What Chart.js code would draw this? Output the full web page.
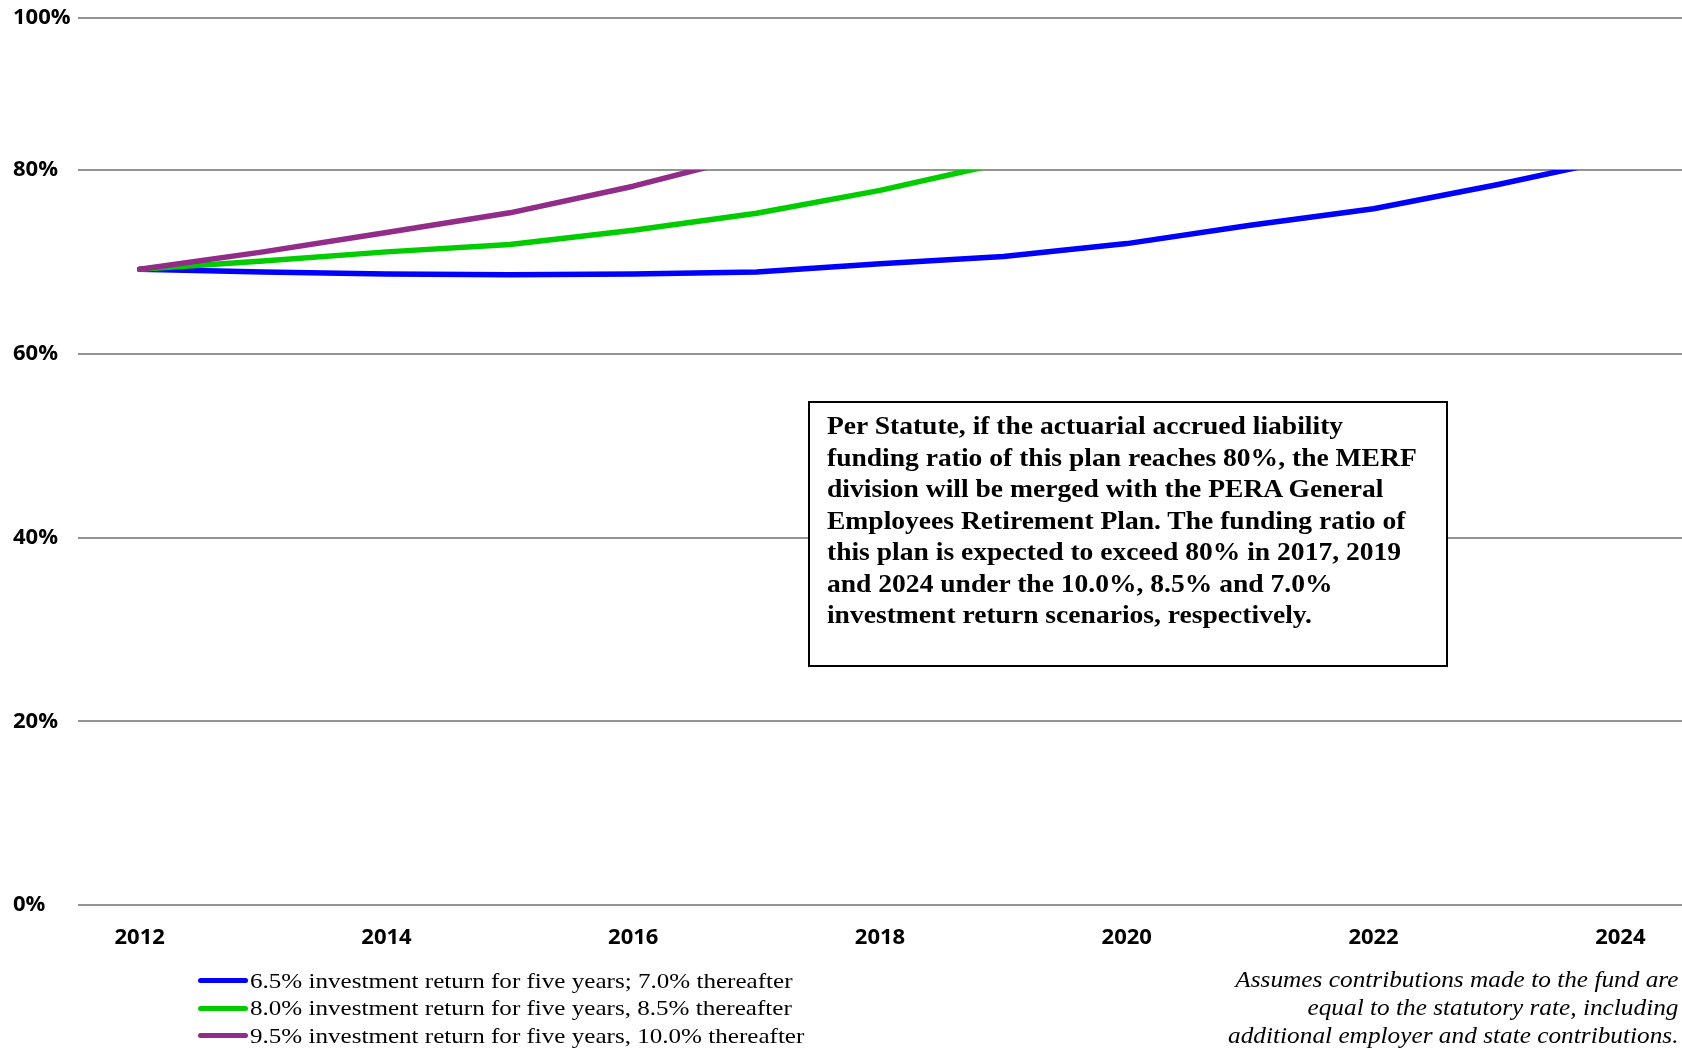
<!DOCTYPE html>
<html>
<head>
<meta charset="utf-8">
<script src="https://cdn.jsdelivr.net/npm/chart.js@4.4.1/dist/chart.umd.min.js"></script>
<style>
  body { margin: 0; background: #fff; }
  #wrap { position: relative; width: 1682px; height: 1049px; overflow: hidden; }
  #fundChart { display: block; }
  #legend {
    position: absolute; left: 198px; top: 967px;
    font-family: 'Liberation Serif', 'Times New Roman', serif; font-size: 22px; color: #000;
  }
  #legend .row { display: flex; align-items: center; height: 27.5px; white-space: nowrap; }
  #legend .swatch { width: 50px; height: 5px; border-radius: 3px; margin-right: 2px; }
  #legend .txt { display: inline-block; transform: scaleX(1.14); transform-origin: left center; }
  #note {
    position: absolute; right: 4px; top: 966px; text-align: right;
    font-family: 'Liberation Serif', 'Times New Roman', serif; font-style: italic;
    font-size: 23px; line-height: 28px; color: #000; white-space: nowrap;
    transform: scaleX(1.1); transform-origin: right top;
  }
  #statute {
    position: absolute; left: 808px; top: 401px; width: 636px; height: 262px;
    border: 2px solid #000; background: #fff; box-sizing: content-box;
  }
  #statute p {
    margin: 0; padding: 7px 0 0 16px; white-space: nowrap;
    font-family: 'Liberation Serif', 'Times New Roman', serif; font-weight: bold;
    font-size: 26px; line-height: 31.5px; color: #000;
    transform: scaleX(1.06); transform-origin: left top;
  }
</style>
</head>
<body>
<div id="wrap">
  <canvas id="fundChart" width="1682" height="1049"></canvas>
  <div id="statute"><p>Per Statute, if the actuarial accrued liability<br>funding ratio of this plan reaches 80%, the MERF<br>division will be merged with the PERA General<br>Employees Retirement Plan. The funding ratio of<br>this plan is expected to exceed 80% in 2017, 2019<br>and 2024 under the 10.0%, 8.5% and 7.0%<br>investment return scenarios, respectively.</p></div>
  <div id="legend"></div>
  <div id="note">Assumes contributions made to the fund are<br>equal to the statutory rate, including<br>additional employer and state contributions.</div>
</div>
<script>
// years on the x axis (only every other one is labelled)
const years = ['2012', '2013', '2014', '2015', '2016', '2017', '2018', '2019', '2020', '2021', '2022', '2023', '2024'];

// funding ratio (%) per scenario
const blueValues = [69.2, 68.9, 68.7, 68.6, 68.7, 68.9, 69.8, 70.6, 72.0, 74.0, 75.8, 78.4, 81.3];
const greenValues = [69.2, 70.1, 71.1, 71.9, 73.45, 75.3, 77.8, 80.8, null, null, null, null, null];
const purpleValues = [69.2, 71.1, 73.2, 75.35, 78.25, 81.7, null, null, null, null, null, null, null];

const seriesNames = [
    '6.5% investment return for five years; 7.0% thereafter',
    '8.0% investment return for five years, 8.5% thereafter',
    '9.5% investment return for five years, 10.0% thereafter'
];
const seriesColors = ['#0000FF', '#00CC00', '#912C88'];

// y ticks: the top line of the original sits closer to 80% than the others
const yTicks = [0, 20, 40, 60, 80, 96.56];
const yTickLabels = ['0%', '20%', '40%', '60%', '80%', '100%'];
const capValue = 80; // lines are cut off where they reach 80%

// cut the lines at the 80% gridline, like the original
const clipAtCap = {
    id: 'clipAtCap',
    beforeDatasetsDraw(chart) {
        const area = chart.chartArea;
        const top = chart.scales.y.getPixelForValue(capValue);
        const ctx = chart.ctx;
        ctx.save();
        ctx.beginPath();
        ctx.rect(area.left - 10, top, area.right - area.left + 20, area.bottom - top + 10);
        ctx.clip();
    },
    afterDatasetsDraw(chart) {
        chart.ctx.restore();
    }
};

const tickFont = { family: "'Open Sans', sans-serif", size: 22, weight: 'bold' };

function makeDataset(i, values, order) {
    return {
        label: seriesNames[i],
        data: values,
        borderColor: seriesColors[i],
        backgroundColor: seriesColors[i],
        borderWidth: 5.5,
        borderCapStyle: 'round',
        borderJoinStyle: 'round',
        pointRadius: 0,
        tension: 0,
        fill: false,
        order: order
    };
}

const ctx = document.getElementById('fundChart').getContext('2d');
const fundChart = new Chart(ctx, {
    type: 'line',
    data: {
        labels: years,
        datasets: [
            makeDataset(0, blueValues, 2),
            makeDataset(1, greenValues, 1),
            makeDataset(2, purpleValues, 0)
        ]
    },
    options: {
        responsive: false,
        animation: false,
        layout: { padding: { top: 18, left: 13, right: 0, bottom: 0 } },
        plugins: {
            legend: { display: false },
            tooltip: { enabled: false }
        },
        scales: {
            x: {
                offset: true,
                grid: { display: false, drawTicks: false },
                border: { display: false },
                ticks: {
                    autoSkip: false,
                    maxRotation: 0,
                    padding: 20,
                    color: '#000',
                    font: tickFont,
                    callback: function (val, index) {
                        return index % 2 === 0 ? years[index] : '';
                    }
                },
                afterFit: function (scale) { scale.height = 144; }
            },
            y: {
                min: 0,
                max: yTicks[yTicks.length - 1],
                afterBuildTicks: function (axis) {
                    axis.ticks = yTicks.map(function (v) { return { value: v }; });
                },
                grid: { color: '#939393', lineWidth: 2, drawTicks: false },
                border: { display: false },
                ticks: {
                    padding: 10,
                    crossAlign: 'far',
                    color: '#000',
                    font: tickFont,
                    callback: function (val, index) { return yTickLabels[index]; }
                },
                afterFit: function (scale) {
                    scale.width = 65;
                    scale.paddingTop = 0;
                    scale.paddingBottom = 0;
                }
            }
        }
    },
    plugins: [clipAtCap]
});

// legend as a stacked list under the chart
const legendBox = document.getElementById('legend');
seriesNames.forEach(function (name, i) {
    const row = document.createElement('div');
    row.className = 'row';
    const sw = document.createElement('span');
    sw.className = 'swatch';
    sw.style.background = seriesColors[i];
    const txt = document.createElement('span');
    txt.className = 'txt';
    txt.textContent = name;
    row.appendChild(sw);
    row.appendChild(txt);
    legendBox.appendChild(row);
});
</script>
</body>
</html>
